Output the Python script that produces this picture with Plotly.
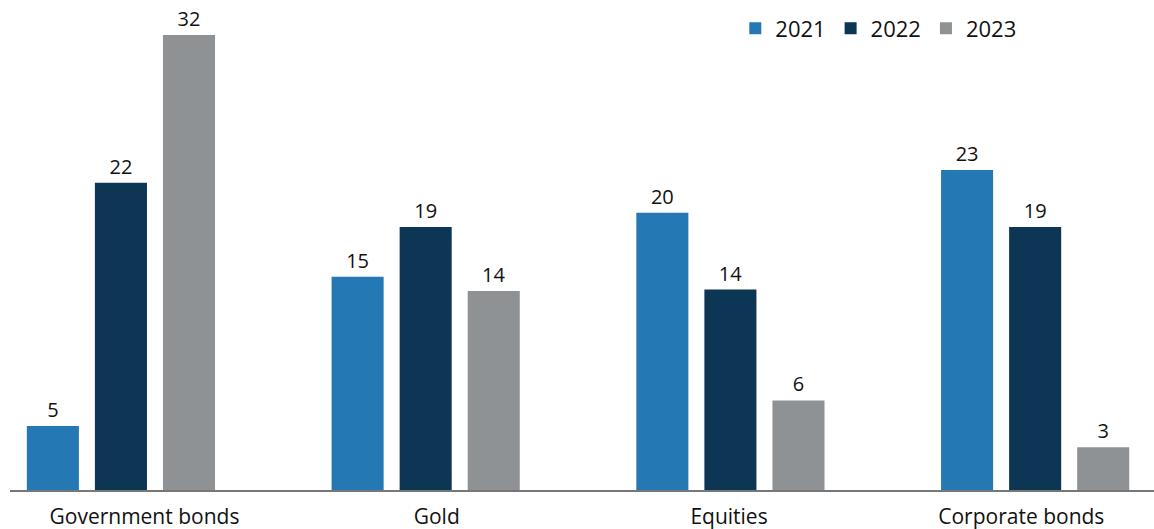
import plotly.graph_objects as go

categories = ["Government bonds", "Gold", "Equities", "Corporate bonds"]
years = ["2021", "2022", "2023"]
values_2021 = [4.5, 15, 19.5, 22.5]
values_2022 = [21.6, 18.5, 14.1, 18.5]
values_2023 = [32, 14, 6.3, 3]
labels_2021 = ["5", "15", "20", "23"]
labels_2022 = ["22", "19", "14", "19"]
labels_2023 = ["32", "14", "6", "3"]
colors = ["#2479b5", "#0c3654", "#8f9295"]

FONT = "Open Sans"
fig = go.Figure()
for name, vals, labs, col in zip(years, [values_2021, values_2022, values_2023],
                                 [labels_2021, labels_2022, labels_2023], colors):
    fig.add_trace(go.Bar(
        x=categories, y=vals, name=name, text=labs, textposition="outside",
        textfont=dict(family=FONT, size=20, color="#111111"),
        marker=dict(color=col, line=dict(width=0)), cliponaxis=False,
        hoverinfo="skip",
    ))

# invisible helper trace carrying the category labels on a second x axis
fig.add_trace(go.Scatter(x=list(range(len(categories))), y=[0] * len(categories),
                         xaxis="x2", mode="markers", marker=dict(opacity=0),
                         showlegend=False, hoverinfo="skip"))

fig.update_layout(
    width=1154, height=529,
    margin=dict(l=10, r=0, t=0, b=39),
    barmode="group", bargap=0.33, bargroupgap=0.235,
    plot_bgcolor="white", paper_bgcolor="white",
    font=dict(family=FONT, size=18, color="#111111"),
    legend=dict(orientation="h", x=0.884, xanchor="right", y=0.985, yanchor="top",
                font=dict(family=FONT, size=22), traceorder="normal",
                itemwidth=30),
    xaxis=dict(range=[-0.364, 3.39], showline=True, linecolor="#777777", linewidth=2,
               ticks="", showticklabels=False, showgrid=False),
    xaxis2=dict(overlaying="x", side="bottom", range=[-0.46, 3.454],
                tickmode="array", tickvals=list(range(len(categories))),
                ticktext=categories, ticks="outside", ticklen=8,
                tickcolor="rgba(0,0,0,0)", showline=False, showgrid=False,
                zeroline=False,
                tickfont=dict(family=FONT, size=21, color="#111111")),
    yaxis=dict(range=[0, 34.46], visible=False, showgrid=False),
)
fig.update_traces(selector=dict(type="bar"), textangle=0, constraintext="none")
fig.write_html("out.html", config={"displayModeBar": False},
               post_script="document.body.style.margin='0';")
